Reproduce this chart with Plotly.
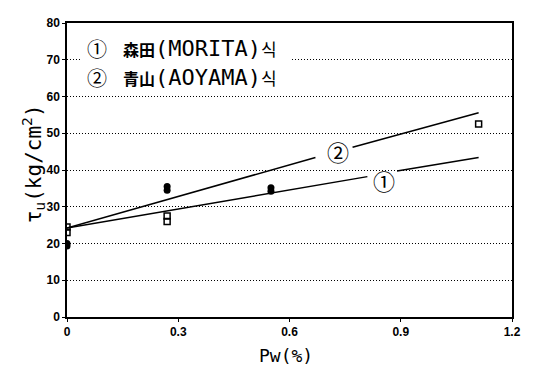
import plotly.graph_objects as go

sq_x = [0, 0, 0.27, 0.27, 1.11]
sq_y = [24.5, 23.0, 27.5, 26.0, 52.5]
ci_x = [0, 0, 0.27, 0.27, 0.55, 0.55]
ci_y = [20.0, 19.3, 35.5, 34.5, 35.2, 34.2]

# Line 1: MORITA formula (gap for label)
l1_x = [0, 0.81, None, 0.89, 1.11]
l1_y = [24.2, 38.2, None, 39.7, 43.4]
# Line 2: AOYAMA formula (gap for label)
l2_x = [0, 0.67, None, 0.77, 1.11]
l2_y = [24.2, 43.4, None, 46.2, 55.6]

label_x = [0.855, 0.73]
label_y = [37.3, 45.2]
label_txt = ["①", "②"]

legend_marks = ["①", "②"]
legend_cjk = [("森田", "MORITA"), ("青山", "AOYAMA")]
legend_y = [73.1, 65.2]

x_ticks = [0, 0.3, 0.6, 0.9, 1.2]
x_tick_text = ["0", "0.3", "0.6", "0.9", "1.2"]
y_ticks = [0, 10, 20, 30, 40, 50, 60, 70, 80]

fig = go.Figure()
fig.add_trace(go.Scatter(x=l1_x, y=l1_y, mode="lines", line=dict(color="black", width=1.5),
                         connectgaps=False, showlegend=False))
fig.add_trace(go.Scatter(x=l2_x, y=l2_y, mode="lines", line=dict(color="black", width=1.5),
                         connectgaps=False, showlegend=False))
fig.add_trace(go.Scatter(x=sq_x, y=sq_y, mode="markers",
                         marker=dict(symbol="square-open", size=6, color="black", line=dict(width=1.5)),
                         showlegend=False))
fig.add_trace(go.Scatter(x=ci_x, y=ci_y, mode="markers",
                         marker=dict(symbol="circle", size=7, color="black"),
                         showlegend=False))

for xx, yy, t in zip(label_x, label_y, label_txt):
    fig.add_annotation(x=xx, y=yy, text=t, showarrow=False,
                       font=dict(family="Noto Sans CJK KR", size=22, color="black"))

# white box hiding the 70 gridline behind the legend text
fig.add_annotation(x=0.035, y=70, xanchor="left", yanchor="middle", showarrow=False,
                   text="", width=207, height=14, bgcolor="white")

for mark, (cjk, lat), yy in zip(legend_marks, legend_cjk, legend_y):
    fig.add_annotation(x=0.081, y=yy, xanchor="center", yanchor="middle", showarrow=False,
                       text=mark, font=dict(family="Noto Sans CJK KR", size=20, color="black"))
    txt = (f"<span style='font-family:Noto Sans CJK KR;font-size:16px;font-weight:bold'>{cjk}</span>"
           f"({lat})"
           f"<span style='font-family:Noto Sans CJK KR;font-size:17px'>식</span>")
    fig.add_annotation(x=0.145, y=yy, xanchor="left", yanchor="middle", showarrow=False,
                       text=txt, font=dict(family="DejaVu Sans Mono", size=22, color="black"))

# axis titles
fig.add_annotation(xref="paper", yref="paper", x=-0.076, y=0.52, xanchor="center", yanchor="middle",
                   showarrow=False, textangle=-90,
                   text="τ<sub>u</sub>(kg/cm<sup>2</sup>)",
                   font=dict(family="DejaVu Sans Mono", size=21, color="black"))
fig.add_annotation(xref="paper", yref="paper", x=0.492, y=-0.13, xanchor="center", yanchor="middle",
                   showarrow=False, text="Pw(%)",
                   font=dict(family="DejaVu Sans Mono", size=18, color="black"))

axis_font = dict(family="Liberation Sans Narrow, Liberation Sans", size=12, color="black", weight="bold")
fig.update_xaxes(range=[0, 1.2], tickvals=x_ticks, ticktext=x_tick_text, showgrid=False,
                 showline=True, linecolor="black", linewidth=1.5, mirror=True,
                 ticks="outside", ticklen=3, tickcolor="black", tickfont=axis_font,
                 zeroline=False, automargin=False)
fig.update_yaxes(range=[0, 80], tickvals=y_ticks, showgrid=True, gridcolor="black",
                 griddash="1px,2px", gridwidth=1,
                 showline=True, linecolor="black", linewidth=1.5, mirror=True,
                 ticks="outside", ticklen=3, tickcolor="black", tickfont=axis_font,
                 zeroline=False, automargin=False)

# page body has an 8px default margin, so the figure is 8px smaller
fig.update_layout(width=525, height=363, plot_bgcolor="white", paper_bgcolor="white",
                  margin=dict(l=59, r=21, t=15, b=54, autoexpand=False), showlegend=False)

fig.write_html("out.html")
